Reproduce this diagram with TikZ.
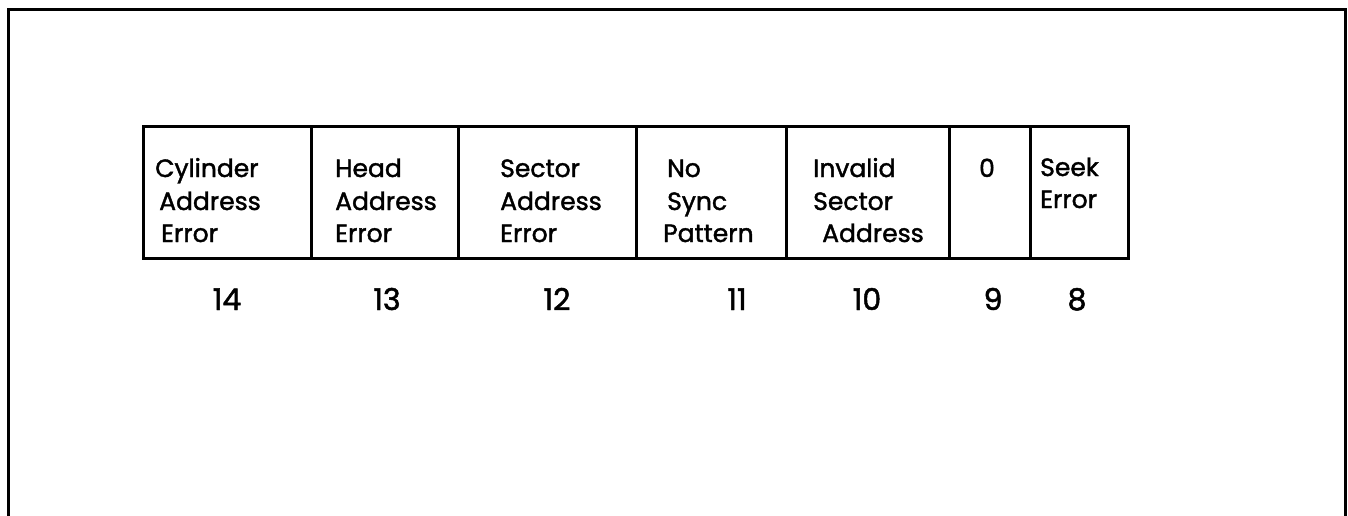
\documentclass[tikz,border=0pt]{standalone}
\usepackage{fontspec}
\setmainfont{Poppins}
\newfontfamily\lblfont{Poppins}[FakeBold=1.6]
\begin{document}
\begin{tikzpicture}[x=1pt,y=-1pt,
  frameline/.style={line width=3pt,line cap=butt},
  cell/.style={draw,line width=3pt,inner sep=0pt,minimum height=132pt,anchor=north west},
  lbl/.style={inner sep=0pt,anchor=base west,font=\lblfont\fontsize{25}{33}\selectfont},
  num/.style={inner sep=0pt,anchor=base,font=\lblfont\fontsize{30}{33}\selectfont}]
\useasboundingbox (0,0) rectangle (1348,515);
% outer frame (open at the bottom)
\coordinate (fbl) at (8,520);
\coordinate (ftl) at (8,9);
\coordinate (ftr) at (1345,9);
\coordinate (fbr) at (1345,520);
\draw[frameline] (fbl) -- (ftl) -- (ftr) -- (fbr);
% register cells
\node[cell,minimum width=168pt] (b14) at (142,125) {};
\node[cell,minimum width=147pt] (b13) at (310,125) {};
\node[cell,minimum width=178pt] (b12) at (457,125) {};
\node[cell,minimum width=150pt] (b11) at (635,125) {};
\node[cell,minimum width=163pt] (b10) at (785,125) {};
\node[cell,minimum width=81pt]  (b9)  at (948,125) {};
\node[cell,minimum width=98pt]  (b8)  at (1029,125) {};
% labels
\node[lbl] (t14a) at (155,177) {Cylinder};
\node[lbl] (t14b) at (159,210) {Address};
\node[lbl] (t14c) at (161,242) {Error};
\node[lbl] (t13a) at (335,177) {Head};
\node[lbl] (t13b) at (335,210) {Address};
\node[lbl] (t13c) at (335,242) {Error};
\node[lbl] (t12a) at (500,177) {Sector};
\node[lbl] (t12b) at (500,210) {Address};
\node[lbl] (t12c) at (500,242) {Error};
\node[lbl] (t11a) at (667,177) {No};
\node[lbl] (t11b) at (667,210) {Sync};
\node[lbl] (t11c) at (663,242) {Pattern};
\node[lbl] (t10a) at (813,177) {Invalid};
\node[lbl] (t10b) at (813,210) {Sector};
\node[lbl] (t10c) at (822,242) {Address};
\node[lbl,anchor=base] (t9a) at (987,177) {0};
\node[lbl] (t8a) at (1040,176) {Seek};
\node[lbl] (t8b) at (1040,208) {Error};
% bit numbers
\node[num] (n14) at (227,310) {14};
\node[num] (n13) at (387,310) {13};
\node[num] (n12) at (557,310) {12};
\node[num] (n11) at (737,310) {11};
\node[num] (n10) at (867,310) {10};
\node[num] (n9)  at (993,310) {9};
\node[num] (n8)  at (1077,310) {8};
\end{tikzpicture}
\end{document}
